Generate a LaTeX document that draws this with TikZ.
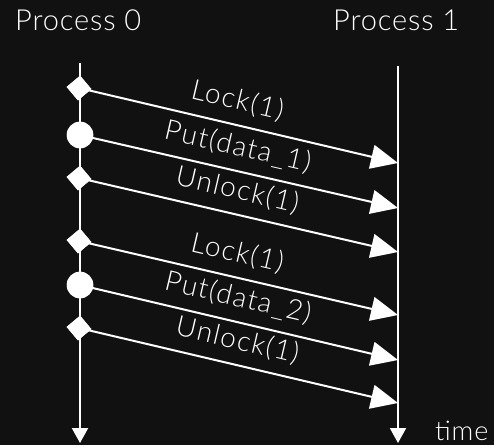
\documentclass[tikz,border=0pt]{standalone}
\usepackage{fontspec}
\setmainfont{Lato}[UprightFont={* Light}]
\newfontfamily\widelight{Lato}[UprightFont={* Light}, LetterSpace=5]
\newfontfamily\titlelight{Lato}[UprightFont={* Light}, LetterSpace=3]
\usetikzlibrary{arrows.meta,shapes.geometric}
\definecolor{bg}{HTML}{111111}
\tikzset{
  lifeline/.style={draw=white, line width=2pt, -{Triangle[length=15pt,width=16pt]}},
  msg/.style={draw=white, line width=2pt, -{Triangle[length=27pt,width=24pt]}},
  lockmark/.style={rectangle, fill=white, minimum size=17.5pt, inner sep=0pt, rotate=40},
  putmark/.style={circle, fill=white, minimum size=26.5pt, inner sep=0pt},
  msglabel/.style={text=white, font=\widelight\fontsize{28}{32}\selectfont, sloped, pos=0.48, yshift=24pt},
  title/.style={text=white, font=\titlelight\fontsize{29}{33}\selectfont, anchor=base west, inner sep=0pt},
}
\begin{document}
\begin{tikzpicture}[x=1pt, y=-1pt]
  \fill[bg] (0,0) rectangle (494,445);
  \useasboundingbox (0,0) rectangle (494,445);

  % process headers
  \node[title] (h0) at (15,30) {Process 0};
  \node[title] (h1) at (333,30) {Process 1};
  \node[title, font=\titlelight\fontsize{27}{31}\selectfont] (time) at (435,440) {time};

  % timelines
  \coordinate (p0top) at (80,63);
  \coordinate (p0bot) at (80,443);
  \coordinate (p1top) at (398,66);
  \coordinate (p1bot) at (398,443);
  \draw[lifeline] (p0top) -- (p0bot);
  \draw[lifeline] (p1top) -- (p1bot);

  % receive points on process 1
  \coordinate (r1) at (398,163);
  \coordinate (r2) at (398,208);
  \coordinate (r3) at (398,252);
  \coordinate (r4) at (398,315);
  \coordinate (r5) at (398,360);
  \coordinate (r6) at (398,403);

  % event markers on process 0
  \node[lockmark] (e1) at (79,88) {};
  \node[putmark]  (e2) at (80,135) {};
  \node[lockmark] (e3) at (79,178) {};
  \node[lockmark] (e4) at (79,241) {};
  \node[putmark]  (e5) at (80,285) {};
  \node[lockmark] (e6) at (79,328) {};

  % messages
  \draw[msg] (e1.center) -- (r1) node[msglabel] {Lock(1)};
  \draw[msg] (e2.center) -- (r2) node[msglabel] {Put(data\_1)};
  \draw[msg] (e3.center) -- (r3) node[msglabel] {Unlock(1)};
  \draw[msg] (e4.center) -- (r4) node[msglabel] {Lock(1)};
  \draw[msg] (e5.center) -- (r5) node[msglabel] {Put(data\_2)};
  \draw[msg] (e6.center) -- (r6) node[msglabel] {Unlock(1)};

  % markers on top of the message lines
  \foreach \m/\s in {e1/lockmark,e3/lockmark,e4/lockmark,e6/lockmark,e2/putmark,e5/putmark}
    \node[\s] at (\m) {};
\end{tikzpicture}
\end{document}
